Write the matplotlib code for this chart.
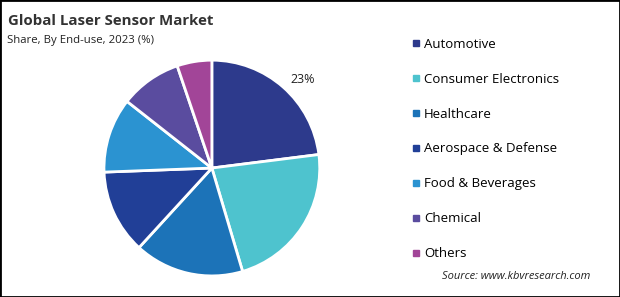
import matplotlib.pyplot as plt
from matplotlib.lines import Line2D
from matplotlib.patches import Rectangle

plt.rcParams['font.family'] = ['Open Sans', 'DejaVu Sans']

segments = ['Automotive', 'Consumer Electronics', 'Healthcare', 'Aerospace & Defense',
            'Food & Beverages', 'Chemical', 'Others']
shares = [23, 22.4, 16.4, 12.6, 11.2, 9.2, 5.2]
colors = ['#2D3A8C', '#4EC3CE', '#1C73B8', '#213F97', '#2B93D1', '#5A4C9F', '#A24598']
labels = ['23%', '', '', '', '', '', '']

fig = plt.figure(figsize=(6.2, 2.97), dpi=100)

ax = fig.add_axes([0.1677, 0.0707, 0.348, 0.727])
ax.pie(shares, colors=colors, labels=labels, labeldistance=1.1, startangle=90,
       counterclock=False, wedgeprops={'edgecolor': 'white', 'linewidth': 2},
       textprops={'fontsize': 9, 'color': '#222222'})
ax.set_xlim(-1, 1)
ax.set_ylim(-1, 1)
ax.set_aspect('equal')

fig.text(0.013, 0.93, 'Global Laser Sensor Market', fontsize=10.8, fontweight='bold',
         color='#333333', va='center')
fig.text(0.011, 0.862, 'Share, By End-use, 2023 (%)', fontsize=8.2, color='#222222', va='center')

handles = [Line2D([], [], marker='s', linestyle='none', markersize=4.5, color=c) for c in colors]
fig.legend(handles, segments, loc='upper left', bbox_to_anchor=(0.652, 0.895),
           frameon=False, fontsize=9.5, labelspacing=1.66, handletextpad=0.2,
           handlelength=0.8, borderpad=0)

fig.text(0.953, 0.068, 'Source: www.kbvresearch.com', fontsize=8, style='italic',
         color='#222222', ha='right', va='center')

fig.patches.append(Rectangle((0, 0), 1, 1, transform=fig.transFigure, fill=False,
                             edgecolor='black', linewidth=2))

fig.savefig('out.png', dpi=100)
